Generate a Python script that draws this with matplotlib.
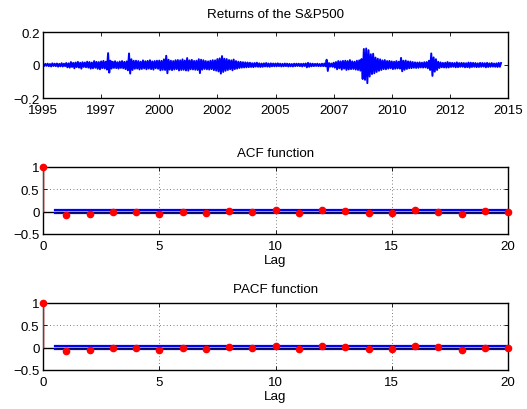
import numpy as np
import matplotlib
matplotlib.use("Agg")
import matplotlib.pyplot as plt

plt.rcParams["font.family"] = ["Liberation Sans", "DejaVu Sans"]
plt.rcParams["font.size"] = 9.6

# returns of the S&P500 in percent, ~20 samples per year
returns_pct = [
    # 1995
    0.5, -0.6, 0.7, -0.5, 0.8, -0.7, 0.6, -0.9, 1.0, -0.6, 0.8, -0.7, 0.9, -1.0, 0.7, -0.8, 1.1, -0.9, 0.8, -0.7,
    # 1996
    1.2, -1.4, 1.0, -1.6, 1.8, -1.2, 1.3, -2.0, 1.5, -1.3, 1.9, -1.6, 1.4, -2.2, 1.7, -1.2, 1.5, -1.4, 2.0, -1.6,
    # 1997
    1.8, -2.2, 1.5, -2.0, 2.4, -1.7, 1.9, -2.3, 1.8, -2.6, 2.2, -1.9, 2.5, -2.1, 2.0, -2.8, 7.2, -4.6, 2.6, -2.2,
    # 1998
    2.0, -1.8, 2.3, -1.9, 1.7, -2.2, 2.1, -1.8, 2.4, -2.0, 1.9, -2.5, 2.2, -3.2, 7.0, -5.2, 3.5, -3.0, 2.6, -2.3,
    # 1999
    2.6, -2.2, 2.4, -2.7, 2.0, -2.4, 2.8, -2.1, 2.3, -2.6, 2.5, -2.2, 2.9, -2.5, 2.2, -2.8, 2.4, -2.0, 2.6, -2.3,
    # 2000
    2.7, -3.2, 2.5, -2.9, 3.4, -3.0, 5.6, -5.0, 3.2, -2.8, 2.6, -3.1, 2.4, -2.7, 2.9, -2.5, 3.0, -3.3, 2.8, -3.0,
    # 2001
    3.4, -2.9, 2.7, -3.3, 4.2, -3.4, 2.8, -2.6, 3.1, -2.7, 2.5, -2.9, 2.6, -3.0, 3.5, -4.9, 3.2, -2.8, 2.9, -2.4,
    # 2002
    2.4, -2.6, 2.2, -2.8, 2.6, -2.5, 2.9, -3.1, 2.8, -3.4, 3.6, -3.9, 4.0, -5.2, 5.4, -4.2, 3.8, -3.5, 3.6, -3.0,
    # 2003
    3.0, -2.6, 2.8, -3.2, 3.3, -2.5, 2.4, -2.2, 2.0, -1.8, 1.9, -1.6, 1.7, -1.5, 1.6, -1.4, 1.5, -1.3, 1.4, -1.2,
    # 2004
    1.1, -1.3, 1.2, -1.0, 1.4, -1.1, 1.0, -1.2, 0.9, -1.1, 1.0, -0.9, 1.2, -1.0, 0.9, -1.1, 1.0, -0.8, 0.9, -0.8,
    # 2005
    0.9, -0.8, 1.0, -0.7, 0.8, -0.9, 0.7, -0.8, 0.9, -0.7, 0.8, -0.9, 0.7, -0.8, 0.6, -0.9, 0.8, -0.7, 0.8, -0.6,
    # 2006
    0.8, -0.7, 0.7, -0.9, 0.8, -0.6, 0.9, -1.4, 1.3, -1.1, 0.9, -0.8, 0.8, -0.7, 0.7, -0.6, 0.8, -0.7, 0.6, -0.7,
    # 2007
    0.8, -0.7, 0.9, -0.8, 3.2, -3.6, 1.2, -1.0, 0.9, -1.1, 1.4, -1.6, 1.8, -2.6, 2.4, -2.0, 2.2, -2.8, 2.5, -2.2,
    # 2008
    2.6, -3.0, 2.4, -2.7, 3.0, -2.5, 2.2, -2.4, 2.0, -2.8, 2.6, -3.0, 2.8, -3.4, 3.6, -8.5, 9.7, -9.0, 10.0, -11.0,
    # 2009
    9.0, -7.0, 6.5, -5.5, 6.8, -5.0, 4.5, -4.2, 3.8, -3.5, 3.4, -3.0, 2.8, -2.5, 3.0, -2.6, 2.4, -2.2, 2.5, -2.0,
    # 2010
    2.2, -2.5, 2.0, -2.3, 2.4, -2.1, 2.0, -2.2, 4.3, -3.8, 2.6, -2.9, 2.7, -2.4, 2.2, -2.0, 2.1, -1.9, 1.8, -1.7,
    # 2011
    1.6, -1.8, 1.5, -1.7, 1.6, -1.5, 1.4, -1.6, 1.7, -1.5, 1.8, -2.0, 2.6, -3.0, 7.0, -6.6, 4.6, -4.0, 3.5, -3.0,
    # 2012
    2.0, -1.8, 1.6, -1.4, 1.3, -1.5, 1.4, -1.6, 1.8, -1.5, 1.4, -1.2, 1.3, -1.1, 1.2, -1.4, 1.6, -1.3, 1.2, -1.1,
    # 2013
    1.3, -1.1, 1.2, -1.4, 1.1, -1.3, 1.5, -1.6, 1.4, -1.2, 1.3, -1.1, 1.2, -1.3, 1.0, -1.2, 1.3, -1.1, 1.2, -1.0,
    # 2014
    1.1, -1.4, 1.3, -1.2, 1.0, -1.1, 1.2, -1.0, 0.9, -1.1, 1.0, -1.2, 1.3, -1.1, 1.2,
]
start_year = 1995
samples_per_year = 20

year_ticks = [1995, 1997.5, 2000, 2002.5, 2005, 2007.5, 2010, 2012.5, 2015]
year_labels = ["1995", "1997", "2000", "2002", "2005", "2007", "2010", "2012", "2015"]

lags = list(range(21))
acf = [1.0, -0.07, -0.05, 0.0, -0.01, -0.05, 0.0, -0.04, 0.01, -0.01, 0.03,
       -0.04, 0.04, 0.01, -0.03, -0.04, 0.04, 0.0, -0.05, 0.01, 0.0]
pacf = [1.0, -0.07, -0.06, 0.0, -0.01, -0.06, 0.0, -0.04, 0.01, -0.01, 0.03,
        -0.03, 0.04, 0.01, -0.02, -0.03, 0.03, 0.01, -0.05, 0.0, 0.0]
conf_bound = 0.028

W, H = 527, 410
fig = plt.figure(figsize=(W / 100, H / 100), dpi=100)


def px_axes(left, top, right, bottom):
    return fig.add_axes([left / W, 1 - bottom / H, (right - left) / W, (bottom - top) / H])


def matlab_style(ax):
    ax.tick_params(direction="in", top=True, right=True, length=3, width=0.6)
    ax.tick_params(axis="y", pad=2.5)
    ax.tick_params(axis="x", pad=4)
    for s in ax.spines.values():
        s.set_linewidth(1.0)


# returns series
ax1 = px_axes(43, 33, 508, 99)
x = start_year + np.arange(len(returns_pct)) / samples_per_year
ax1.plot(x, np.array(returns_pct) / 100, color="#0000ff", lw=1.4)
ax1.set_xlim(1995, 2015)
ax1.set_ylim(-0.2, 0.2)
ax1.set_yticks([-0.2, 0, 0.2])
ax1.set_yticklabels(["\u22120.2", "0", "0.2"])
ax1.set_xticks(year_ticks)
ax1.set_xticklabels(year_labels)
ax1.set_title("Returns of the S&P500", fontsize=9.6, pad=11)
matlab_style(ax1)


def corr_panel(ax, vals, title):
    ax.axhline(0, xmin=0, xmax=1, color="black", lw=1.0, zorder=2)
    ax.plot([0.5, 20], [conf_bound, conf_bound], color="#0000ff", lw=1.6, zorder=3)
    ax.plot([0.5, 20], [-conf_bound, -conf_bound], color="#0000ff", lw=1.6, zorder=3)
    ax.plot([0.5, 20], [0, 0], color="#000060", lw=0.8, zorder=3)
    ax.vlines(lags, 0, vals, color="red", lw=1.0, zorder=4)
    ax.plot(lags, vals, "o", color="red", ms=4.5, zorder=5, clip_on=False)
    ax.set_xlim(0, 20)
    ax.set_ylim(-0.5, 1)
    ax.set_xticks([0, 5, 10, 15, 20])
    ax.set_yticks([-0.5, 0, 0.5, 1])
    ax.set_yticklabels(["\u22120.5", "0", "0.5", "1"])
    ax.grid(True, linestyle=(0, (1, 3)), color="#555555", lw=0.6)
    ax.set_axisbelow(True)
    ax.set_xlabel("Lag", labelpad=1.5)
    ax.set_title(title, fontsize=9.6, pad=8)
    matlab_style(ax)


ax2 = px_axes(43, 168, 508, 235)
corr_panel(ax2, acf, "ACF function")

ax3 = px_axes(43, 304, 508, 371)
corr_panel(ax3, pacf, "PACF function")

fig.savefig("out.png", dpi=100)
